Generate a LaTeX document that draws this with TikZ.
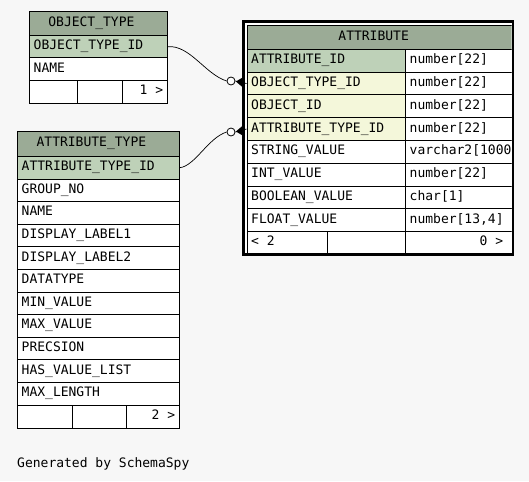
\documentclass[tikz,border=0pt]{standalone}
\usepackage{fontspec}
\newfontfamily\mono{DejaVu Sans Mono}
\usetikzlibrary{calc}
\definecolor{bgc}{HTML}{F7F7F7}
\definecolor{hdr}{HTML}{9BAB96}
\definecolor{pk}{HTML}{BED1B8}
\definecolor{fk}{HTML}{F4F7DA}
\tikzset{
  cellbg/.style={draw=black, line width=0.8pt, anchor=north west, inner sep=0pt},
  ctext/.style={font=\mono\fontsize{13}{13}\selectfont, inner xsep=4.5pt, inner ysep=0pt,
                text height=9.5pt, text depth=3.5pt},
  conn/.style={draw=black, line width=0.7pt},
  odot/.style={circle, draw=black, fill=white, line width=0.8pt, minimum size=8pt, inner sep=0pt},
}
\newcommand\tcell[9][0]{%
  \node[cellbg, fill=#7, minimum width=#5pt, minimum height=#6pt] (#2) at (#3,#4) {};
  \node[ctext, anchor=#8, xshift=#1pt] (#2t) at (#2.#8) {#9};}
\begin{document}
\begin{tikzpicture}[x=1pt, y=-1pt]
\useasboundingbox (0,0) rectangle (529,481);
\fill[bgc] (0,0) rectangle (529,481);

% OBJECT_TYPE
\tcell[-7]{oth}{29}{11}{138}{24}{hdr}{center}{OBJECT\_TYPE}
\tcell{ot1}{29}{35}{138}{22.5}{pk}{west}{OBJECT\_TYPE\_ID}
\tcell{ot2}{29}{57.5}{138}{22.5}{white}{west}{NAME}
\tcell{otf1}{29}{80}{48}{23}{white}{west}{}
\tcell{otf2}{77}{80}{45}{23}{white}{west}{}
\tcell{otf3}{122}{80}{45}{23}{white}{east}{1 >}

% ATTRIBUTE_TYPE
\tcell[-7]{ath}{17}{131}{162}{25}{hdr}{center}{ATTRIBUTE\_TYPE}
\tcell{atk}{17}{156}{162}{22.6}{pk}{west}{ATTRIBUTE\_TYPE\_ID}
\foreach \t [count=\i from 0] in {GROUP\_NO, NAME, DISPLAY\_LABEL1, DISPLAY\_LABEL2,
  DATATYPE, MIN\_VALUE, MAX\_VALUE, PRECSION, HAS\_VALUE\_LIST, MAX\_LENGTH} {
  \pgfmathsetmacro\yy{178.6+22.6*\i}
  \tcell{atr\i}{17}{\yy}{162}{22.6}{white}{west}{\t}
}
\tcell{atf1}{17}{404.6}{55}{23}{white}{west}{}
\tcell{atf2}{72}{404.6}{54}{23}{white}{west}{}
\tcell{atf3}{126}{404.6}{53}{23}{white}{east}{2 >}

% ATTRIBUTE
\fill[white] (244,23) rectangle (512,253);
\begin{scope}
\clip (242,20) rectangle (511.5,257);
\tcell[-6]{ah}{246.5}{25}{265.5}{24}{hdr}{center}{ATTRIBUTE}
\foreach \n/\ty/\f [count=\i from 0] in {
  ATTRIBUTE\_ID/{number[22]}/pk,
  OBJECT\_TYPE\_ID/{number[22]}/fk,
  OBJECT\_ID/{number[22]}/fk,
  ATTRIBUTE\_TYPE\_ID/{number[22]}/fk,
  STRING\_VALUE/{varchar2[1000]}/white,
  INT\_VALUE/{number[22]}/white,
  BOOLEAN\_VALUE/{char[1]}/white,
  FLOAT\_VALUE/{number[13,4]}/white} {
  \pgfmathsetmacro\yy{49+22.75*\i}
  \tcell{a\i}{246.5}{\yy}{158.5}{22.75}{\f}{west}{\n}
  \tcell{b\i}{405}{\yy}{107}{22.75}{white}{west}{\ty}
}
\tcell{af1}{246.5}{231}{80.5}{23}{white}{west}{< 2}
\tcell{af2}{327}{231}{78}{23}{white}{west}{}
\tcell[-5]{af3}{405}{231}{107}{23}{white}{east}{0 >}
\end{scope}
\draw[line width=2.6pt] (243.3,21.8) rectangle (512.8,254.5);

% connectors
\node[odot] (oc1) at (231,81) {};
\node[odot] (oc2) at (231,132) {};
\draw[conn] (ot1.east) .. controls (190,45) and (205,74) .. (oc1.west);
\draw[conn] (atk.east) .. controls (195,166) and (208,138) .. (oc2.west);
\fill ($(oc1.east)+(0.5,0.5)$) -- (243.5,77) -- (243.5,88) -- cycle;
\draw[conn] (oc1.east) -- (a1.west);
\fill ($(oc2.east)+(0.5,-0.5)$) -- (243.5,125) -- (243.5,136) -- cycle;
\draw[conn] (oc2.east) -- (a3.west);

\node[ctext, anchor=base west] (gen) at (12.5,467) {Generated by SchemaSpy};
\end{tikzpicture}
\end{document}
